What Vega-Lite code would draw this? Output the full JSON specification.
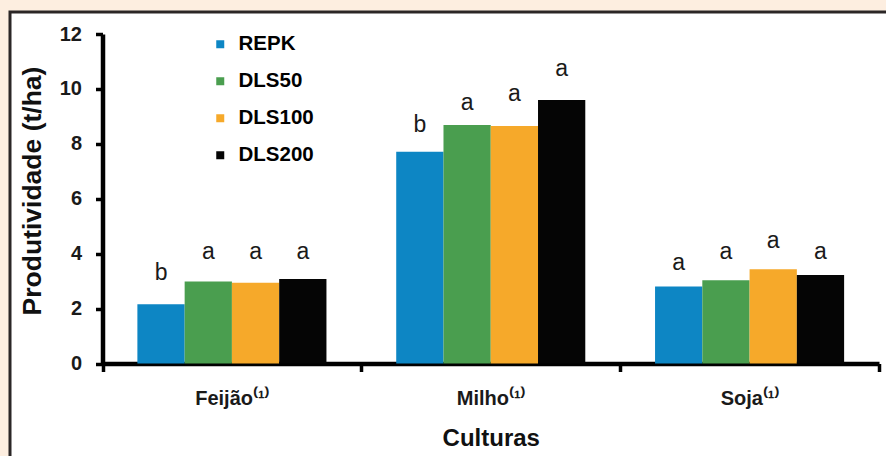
{
  "$schema": "https://vega.github.io/schema/vega-lite/v6.json",
  "width": 876,
  "height": 444,
  "autosize": {"type": "none"},
  "padding": {"left": 10, "top": 12, "right": 0, "bottom": 0},
  "background": "#fdeee0",
  "config": {
    "view": {"fill": "white", "stroke": "#2b2626", "strokeWidth": 3, "strokeDash": [876, 1320, 450]},
    "font": "Liberation Sans"
  },
  "data": {
    "values": [
      {"cultura": "Feijão", "tratamento": "REPK", "valor": 2.16, "letra": "b", "letra_y": 3.31},
      {"cultura": "Feijão", "tratamento": "DLS50", "valor": 2.99, "letra": "a", "letra_y": 4.07},
      {"cultura": "Feijão", "tratamento": "DLS100", "valor": 2.94, "letra": "a", "letra_y": 4.07},
      {"cultura": "Feijão", "tratamento": "DLS200", "valor": 3.08, "letra": "a", "letra_y": 4.07},
      {"cultura": "Milho", "tratamento": "REPK", "valor": 7.71, "letra": "b", "letra_y": 8.68},
      {"cultura": "Milho", "tratamento": "DLS50", "valor": 8.69, "letra": "a", "letra_y": 9.48},
      {"cultura": "Milho", "tratamento": "DLS100", "valor": 8.65, "letra": "a", "letra_y": 9.8},
      {"cultura": "Milho", "tratamento": "DLS200", "valor": 9.6, "letra": "a", "letra_y": 10.71},
      {"cultura": "Soja", "tratamento": "REPK", "valor": 2.8, "letra": "a", "letra_y": 3.65},
      {"cultura": "Soja", "tratamento": "DLS50", "valor": 3.03, "letra": "a", "letra_y": 4.07},
      {"cultura": "Soja", "tratamento": "DLS100", "valor": 3.43, "letra": "a", "letra_y": 4.47},
      {"cultura": "Soja", "tratamento": "DLS200", "valor": 3.22, "letra": "a", "letra_y": 4.07}
    ]
  },
  "encoding": {
    "x": {
      "field": "cultura",
      "type": "nominal",
      "sort": ["Feijão", "Milho", "Soja"],
      "scale": {"range": [92.5, 869], "paddingInner": 0, "paddingOuter": 0},
      "axis": {
        "offset": -92.5,
        "tickBand": "extent",
        "labelAngle": 0,
        "domainWidth": 4.5,
        "domainColor": "#000000",
        "tickColor": "#000000",
        "tickWidth": 3.5,
        "tickSize": 8,
        "labelFontSize": 20,
        "labelFontWeight": "bold",
        "labelColor": "#1a1a1a",
        "labelBaseline": "middle",
        "labelPadding": 27,
        "labelExpr": "datum.label ? datum.label + '⁽¹⁾' : ''",
        "title": "Culturas",
        "titleFontSize": 24,
        "titleFontWeight": "bold",
        "titleColor": "#111111",
        "titleBaseline": "middle",
        "titleY": 74.5
      }
    },
    "xOffset": {
      "field": "tratamento",
      "type": "nominal",
      "sort": ["REPK", "DLS50", "DLS100", "DLS200"],
      "scale": {"paddingInner": 0, "paddingOuter": 0.738}
    }
  },
  "layer": [
    {
      "mark": {"type": "bar"},
      "encoding": {
        "y": {
          "field": "valor",
          "type": "quantitative",
          "scale": {"domain": [0, 12], "range": [351.5, 22], "nice": false},
          "axis": {
            "offset": -92.5,
            "values": [0, 2, 4, 6, 8, 10, 12],
            "grid": false,
            "domainWidth": 4.5,
            "domainColor": "#000000",
            "tickColor": "#000000",
            "tickWidth": 3.5,
            "tickSize": 7,
            "labelFontSize": 20,
            "labelFontWeight": "bold",
            "labelColor": "#1a1a1a",
            "labelPadding": 14,
            "title": "Produtividade (t/ha)",
            "titleFontSize": 26.5,
            "titleFontWeight": "bold",
            "titleColor": "#111111",
            "titleAngle": -90,
            "titleBaseline": "middle",
            "titleX": -70,
            "titleY": 178.5
          }
        },
        "color": {
          "field": "tratamento",
          "type": "nominal",
          "sort": ["REPK", "DLS50", "DLS100", "DLS200"],
          "scale": {"domain": ["REPK", "DLS50", "DLS100", "DLS200"], "range": ["#0d86c4", "#4a9e4f", "#f6a92a", "#050505"]},
          "legend": {
            "orient": "none",
            "legendX": 200,
            "legendY": 22,
            "title": null,
            "symbolType": "square",
            "symbolSize": 64,
            "symbolStrokeWidth": 0,
            "labelFontSize": 20.5,
            "labelFontWeight": "bold",
            "labelColor": "#000000",
            "labelOffset": 8,
            "rowPadding": 16
          }
        }
      }
    },
    {
      "mark": {"type": "text", "fontSize": 23, "color": "#1a1a1a", "baseline": "middle", "font": "Liberation Sans"},
      "encoding": {
        "y": {"field": "letra_y", "type": "quantitative"},
        "text": {"field": "letra"}
      }
    }
  ]
}
